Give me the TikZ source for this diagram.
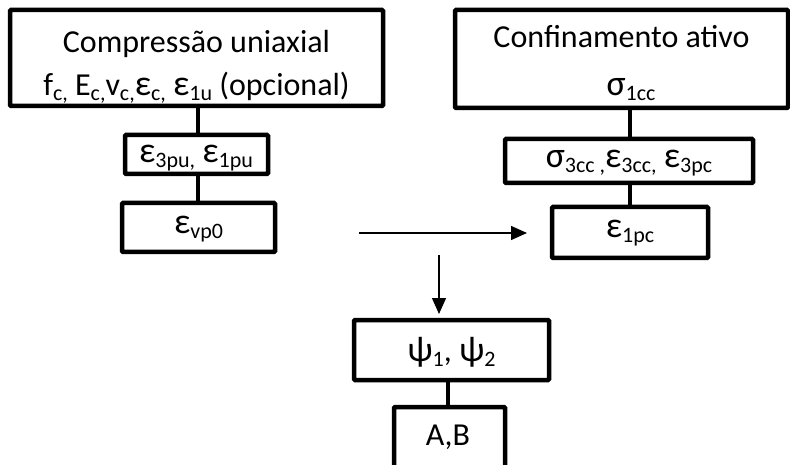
\documentclass[tikz,border=0pt]{standalone}
\usepackage{fontspec}
\setmainfont{Carlito}
\usetikzlibrary{arrows.meta}
\newcommand{\sbs}[1]{\raisebox{-5pt}{\fontsize{22}{22}\selectfont #1}}
\newcommand{\gk}[1]{\scalebox{1.12}{#1}}
\begin{document}
\begin{tikzpicture}[x=1pt,y=-1pt,
  boxstyle/.style={draw=black,line width=4.5pt,rounded corners=1pt},
  txt/.style={font=\fontsize{32}{36}\selectfont,inner sep=0pt,anchor=center},
  link/.style={line width=4.5pt},
  arr/.style={line width=1.3pt,-{Triangle[length=16pt,width=14pt]}}]
\useasboundingbox (0,0) rectangle (790,465);
% left column
\draw[boxstyle] (10,10) rectangle (383,106);
\node[txt] (t1) at (196.5,44) {Compressão uniaxial};
\node[txt] (t1b) at (196.5,88) {f\sbs{c,} E\sbs{c,}v\sbs{c,}\gk{ε}\sbs{c,} \gk{ε}\sbs{1u} (opcional)};
\coordinate (b1) at (198,106);
\draw[boxstyle] (125,135) rectangle (268,174);
\node[txt] (t2) at (196,158) {\gk{ε}\sbs{3pu,} \gk{ε}\sbs{1pu}};
\coordinate (b2t) at (198,135);
\coordinate (b2b) at (198,174);
\draw[boxstyle] (122,203) rectangle (275,252);
\node[txt] (t3) at (198.5,229) {\gk{ε}\sbs{vp0}};
\coordinate (b3t) at (198,203);
\draw[link] (b1) -- (b2t);
\draw[link] (b2b) -- (b3t);
% right column
\draw[boxstyle] (455,10) rectangle (788,108);
\node[txt] (t4) at (621.5,37) {Confinamento ativo};
\node[txt] (t4b) at (631,90) {\gk{σ}\sbs{1cc}};
\coordinate (b4) at (630,108);
\draw[boxstyle] (505,139) rectangle (753,183);
\node[txt] (t5) at (629,163) {\gk{σ}\sbs{3cc ,}\gk{ε}\sbs{3cc,} \gk{ε}\sbs{3pc}};
\coordinate (b5t) at (630,139);
\coordinate (b5b) at (630,183);
\draw[boxstyle] (552,207) rectangle (708,258);
\node[txt] (t6) at (630,233) {\gk{ε}\sbs{1pc}};
\coordinate (b6t) at (630,207);
\draw[link] (b4) -- (b5t);
\draw[link] (b5b) -- (b6t);
% arrows
\coordinate (h0) at (359,233);
\coordinate (h1) at (527,233);
\draw[arr] (h0) -- (h1);
\coordinate (v0) at (439,255);
\coordinate (v1) at (439,314);
\draw[arr] (v0) -- (v1);
% bottom
\draw[boxstyle] (354,320) rectangle (549,380);
\node[txt] (t7) at (451.5,352) {\gk{ψ}\sbs{1}, \gk{ψ}\sbs{2}};
\coordinate (b7) at (448,380);
\draw[boxstyle] (394,407) rectangle (505,472);
\node[txt] (t8) at (448,437) {A,B};
\coordinate (b8t) at (448,407);
\draw[link] (b7) -- (b8t);
\end{tikzpicture}
\end{document}
